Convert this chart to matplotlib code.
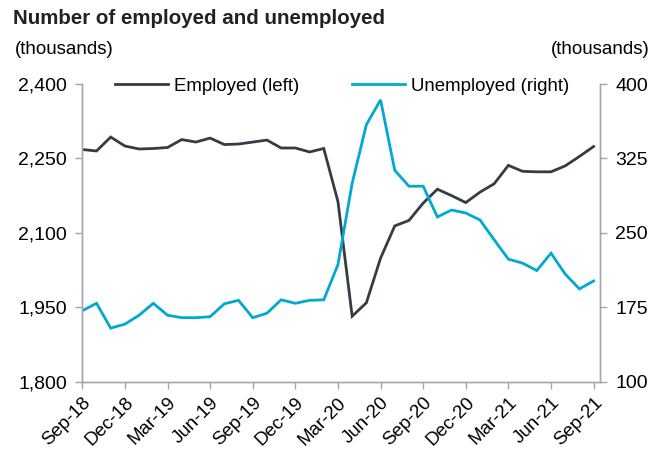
import matplotlib
matplotlib.use("Agg")
import matplotlib.pyplot as plt
import pandas as pd

plt.rcParams['font.family'] = ['Liberation Sans', 'DejaVu Sans']

months = pd.date_range("2018-09-01", "2021-09-01", freq="MS")

employed = [2268, 2265, 2293, 2275, 2269, 2270, 2272, 2288, 2283, 2291,
            2278, 2279, 2283, 2287, 2271, 2271, 2263, 2270, 2163, 1932,
            1959, 2049, 2114, 2125, 2160, 2188, 2175, 2161, 2182, 2199,
            2236, 2224, 2223, 2223, 2235, 2254, 2274]

unemployed = [171.5, 179, 154, 158, 167, 179, 167, 164.5, 164.5, 165.5,
              178.5, 182, 164.5, 169, 182.5, 179, 182, 182.5, 218, 300,
              359, 384, 313, 297, 297, 266, 273, 270, 263, 243,
              223.5, 219.5, 212, 229.5, 208.5, 193.5, 201.5]

left_ticks = [1800, 1950, 2100, 2250, 2400]
right_ticks = [100, 175, 250, 325, 400]
tick_every = 3

EMP_COLOR = "#353c43"
UNEMP_COLOR = "#00a9d0"
SPINE = "#a6a6a6"

fig = plt.figure(figsize=(6.64, 4.49), dpi=100)
W, H = 664, 449
ax = fig.add_axes([82.3 / W, 67.3 / H, (600 - 82.3) / W, 297.7 / H])
ax2 = ax.twinx()

x = list(range(len(months)))
l1, = ax.plot(x, employed, color=EMP_COLOR, lw=2.0, solid_joinstyle="miter")
l2, = ax2.plot(x, unemployed, color=UNEMP_COLOR, lw=2.0, solid_joinstyle="miter")

ax.set_xlim(0, 36.45)
ax.set_ylim(left_ticks[0], left_ticks[-1])
ax2.set_ylim(right_ticks[0], right_ticks[-1])
ax.set_yticks(left_ticks)
ax.set_yticklabels([f"{v:,}" for v in left_ticks])
ax2.set_yticks(right_ticks)
ax2.set_yticklabels([str(v) for v in right_ticks])

xt = x[::tick_every]
ax.set_xticks(xt)
ax.set_xticklabels([months[i].strftime("%b-%y") for i in xt],
                   rotation=45, ha="right", va="top", rotation_mode="anchor")

for a in (ax, ax2):
    for s in a.spines.values():
        s.set_color(SPINE)
        s.set_linewidth(1.0)
    a.spines["top"].set_visible(False)
    a.tick_params(colors=SPINE, labelcolor="#000000", labelsize=14,
                  length=5, width=1.0)
ax.tick_params(axis="x", pad=4, labelsize=13.5)
ax.tick_params(axis="y", pad=6)
ax2.tick_params(axis="y", pad=6)

fig.text(13 / W, 1 - 18 / H, "Number of employed and unemployed",
         fontsize=14.8, fontweight="bold", color="#222222", va="center", ha="left")
fig.text(15 / W, 1 - 49 / H, "(thousands)", fontsize=13.5, va="center", ha="left")
fig.text(650 / W, 1 - 49 / H, "(thousands)", fontsize=13.5, va="center", ha="right")

leg = ax.legend([l1, l2], ["Employed (left)", "Unemployed (right)"],
                loc="center left", bbox_to_anchor=(115 / W, 1 - 86 / H),
                bbox_transform=fig.transFigure, ncol=2, frameon=False,
                fontsize=13.4, handlelength=2.85, handletextpad=0.3,
                columnspacing=2.85, borderaxespad=0, borderpad=0)

fig.savefig("out.png", dpi=100)
